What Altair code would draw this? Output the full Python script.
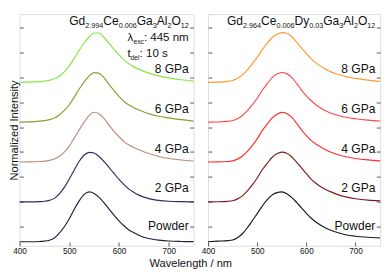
import altair as alt
import pandas as pd

# ---------------- data ----------------
wl = [400, 420, 440, 450, 460, 470, 480, 490, 500, 510, 520, 530, 540, 550, 560,
      570, 580, 590, 600, 610, 620, 630, 640, 650, 660, 670, 680, 700, 725, 750]

series = ["Powder", "2 GPa", "4 GPa", "6 GPa", "8 GPa"]
offsets = [0.2, 1.0, 1.8, 2.6, 3.4]

left_powder = [0, 0, 0.005, 0.012, 0.03, 0.075, 0.17, 0.3, 0.46, 0.65, 0.82, 0.95, 1.0, 0.97, 0.89,
               0.78, 0.655, 0.535, 0.42, 0.32, 0.235, 0.18, 0.13, 0.09, 0.065, 0.045, 0.032, 0.015, 0.005, 0.0]
left_2gpa = [0, 0, 0.005, 0.012, 0.03, 0.07, 0.16, 0.29, 0.46, 0.64, 0.815, 0.94, 0.995, 0.98, 0.91,
             0.81, 0.69, 0.57, 0.45, 0.345, 0.255, 0.19, 0.135, 0.095, 0.065, 0.045, 0.03, 0.013, 0.004, 0]
left_4gpa = [0, 0.002, 0.01, 0.018, 0.033, 0.06, 0.115, 0.2, 0.32, 0.48, 0.645, 0.8, 0.935, 1.0, 0.97,
             0.87, 0.74, 0.615, 0.51, 0.41, 0.34, 0.29, 0.245, 0.205, 0.17, 0.14, 0.11, 0.07, 0.04, 0.02]
left_6gpa = [0.002, 0.006, 0.02, 0.032, 0.05, 0.085, 0.145, 0.235, 0.35, 0.5, 0.665, 0.81, 0.93, 0.995, 0.98,
             0.89, 0.76, 0.635, 0.52, 0.415, 0.345, 0.29, 0.245, 0.205, 0.172, 0.142, 0.118, 0.085, 0.05, 0.022]
left_8gpa = [0, 0.004, 0.015, 0.025, 0.04, 0.07, 0.12, 0.21, 0.33, 0.48, 0.645, 0.79, 0.915, 0.99, 0.99,
             0.9, 0.78, 0.66, 0.55, 0.45, 0.37, 0.31, 0.265, 0.22, 0.185, 0.155, 0.13, 0.09, 0.052, 0.024]

right_powder = [0, 0.012, 0.022, 0.035, 0.08, 0.16, 0.28, 0.42, 0.565, 0.71, 0.84, 0.935, 0.985, 1.0, 0.965,
                0.89, 0.79, 0.68, 0.57, 0.47, 0.39, 0.325, 0.27, 0.23, 0.195, 0.165, 0.14, 0.11, 0.09, 0.075]
right_2gpa = [0, 0.002, 0.01, 0.022, 0.06, 0.12, 0.22, 0.34, 0.48, 0.64, 0.77, 0.89, 0.965, 1.0, 0.975,
              0.905, 0.8, 0.68, 0.565, 0.45, 0.37, 0.3, 0.245, 0.2, 0.16, 0.125, 0.1, 0.062, 0.035, 0.02]
right_4gpa = [0, 0.002, 0.01, 0.022, 0.058, 0.12, 0.215, 0.33, 0.465, 0.625, 0.76, 0.88, 0.96, 0.998, 0.975,
              0.9, 0.78, 0.645, 0.53, 0.43, 0.355, 0.295, 0.24, 0.195, 0.16, 0.13, 0.105, 0.07, 0.042, 0.024]
right_6gpa = [0, 0.003, 0.015, 0.033, 0.07, 0.135, 0.23, 0.35, 0.48, 0.635, 0.77, 0.89, 0.965, 0.998, 0.975,
              0.9, 0.78, 0.645, 0.53, 0.43, 0.345, 0.28, 0.225, 0.18, 0.148, 0.12, 0.098, 0.068, 0.042, 0.024]
right_8gpa = [0, 0.004, 0.018, 0.038, 0.08, 0.15, 0.25, 0.37, 0.5, 0.65, 0.78, 0.895, 0.965, 0.998, 0.985,
              0.92, 0.81, 0.69, 0.575, 0.47, 0.385, 0.315, 0.26, 0.21, 0.172, 0.142, 0.115, 0.078, 0.045, 0.02]

left_colors = ["#20203a", "#2c2c5c", "#bb8c7c", "#8e9c30", "#88e444"]
right_colors = ["#1a1a1a", "#7c1c1c", "#ff3030", "#ff4848", "#ff9a33"]

left_formula = [("Gd", 0), ("2.994", 1), ("Ce", 0), ("0.006", 1), ("Ga", 0), ("3", 1),
                ("Al", 0), ("2", 1), ("O", 0), ("12", 1)]
right_formula = [("Gd", 0), ("2.964", 1), ("Ce", 0), ("0.006", 1), ("Dy", 0), ("0.03", 1),
                 ("Ga", 0), ("3", 1), ("Al", 0), ("2", 1), ("O", 0), ("12", 1)]
lambda_line = [("λ", 0), ("exc", 1), (": 445 nm", 0)]
tdel_line = [("t", 0), ("del", 1), (": 10 s", 0)]

x_ticks = [400, 450, 500, 550, 600, 650, 700, 750]
y_ticks = [0.5, 1.0, 1.5, 2.0, 2.5, 3.0, 3.5, 4.0, 4.5]

# ---------------- layout helpers ----------------
FONT = "Liberation Sans"
H = 241
WL, WR = 181, 179
YDOM = [0.117, 4.77]
XDOM = [400, 750]

ADV = {'G': 778, 'd': 556, 'C': 722, 'e': 556, 'a': 556, 'A': 667, 'l': 222, 'O': 778,
       'D': 722, 'y': 500, '.': 278, ' ': 278, ':': 278, 'n': 556, 'm': 833, 's': 500,
       't': 278, 'x': 500, 'c': 500, 'λ': 520}


def tw(s, size):
    return sum(ADV.get(c, 556) for c in s) * size / 1000.0


def seg_rows(segs, start_px, width_px, main, sub, y):
    rows = []
    x = start_px
    for t, s in segs:
        rows.append({"t": t, "wl": XDOM[0] + x / width_px * (XDOM[1] - XDOM[0]), "y": y, "sub": s})
        x += tw(t, sub if s else main)
    return rows


def seg_total(segs, main, sub):
    return sum(tw(t, sub if s else main) for t, s in segs)


XS = alt.Scale(domain=XDOM, nice=False)
YS = alt.Scale(domain=YDOM, nice=False, zero=False)


def text_layers(rows, main, sub):
    df = pd.DataFrame(rows)
    enc = dict(x=alt.X("wl:Q", scale=XS),
               y=alt.Y("y:Q", scale=YS, axis=None),
               text="t:N")
    m = alt.Chart(df[df["sub"] == 0]).mark_text(align="left", baseline="alphabetic", fontSize=main,
                                                font=FONT, color="#111").encode(**enc)
    s = alt.Chart(df[df["sub"] == 1]).mark_text(align="left", baseline="alphabetic", fontSize=sub,
                                                font=FONT, color="#111", dy=3).encode(**enc)
    return [m, s]


def panel(curves, colors, width_px, left):
    rows = []
    for name, off, vals in zip(series, offsets, curves):
        for w, v in zip(wl, vals):
            rows.append({"wl": w, "val": v + off, "series": name})
    df = pd.DataFrame(rows)

    xaxis = alt.Axis(values=x_ticks,
                     labelExpr="datum.value % 100 == 0 && datum.value < 750 ? datum.label : ''",
                     offset=-4, tickSize=4, domain=False, grid=False, labelFontSize=8.5, labelPadding=1,
                     labelFlush=False, labelOverlap=False, labelColor="#111", tickColor="#555",
                     labelFont=FONT, title=None)
    yaxis = alt.Axis(values=y_ticks, labels=False, offset=-4, tickSize=4, domain=False, grid=False,
                     tickColor="#555", orient="left",
                     title="Normalized Intensity" if left else None,
                     titleFontSize=11.5, titleFontWeight="normal", titleFont=FONT, titleColor="#111",
                     titlePadding=0)
    yaxis_r = alt.Axis(values=y_ticks, labels=False, offset=-4, tickSize=4, domain=False, grid=False,
                       tickColor="#555", orient="right", title=None)

    lines = alt.Chart(df).mark_line(interpolate="monotone", strokeWidth=1.2).encode(
        x=alt.X("wl:Q", scale=XS, axis=xaxis),
        y=alt.Y("val:Q", scale=YS, axis=yaxis),
        color=alt.Color("series:N", scale=alt.Scale(domain=series, range=colors), legend=None),
        detail="series:N",
    )
    ghost = alt.Chart(df).mark_point(opacity=0).encode(
        x=alt.X("wl:Q", scale=XS),
        y=alt.Y("val:Q", scale=YS, axis=yaxis_r),
    )

    right_px = width_px - 5
    lab_x = XDOM[0] + right_px / width_px * (XDOM[1] - XDOM[0])
    lab_df = pd.DataFrame({"t": series, "wl": [lab_x] * 5,
                           "y": [o + (0.24 if s == "Powder" else 0.19) for s, o in zip(series, offsets)]})
    labels = alt.Chart(lab_df).mark_text(align="right", baseline="alphabetic", fontSize=12.5,
                                         font=FONT, color="#111").encode(
        x=alt.X("wl:Q", scale=XS),
        y=alt.Y("y:Q", scale=YS, axis=None),
        text="t:N",
    )

    layers = [lines, ghost, labels]
    formula = left_formula if left else right_formula
    fw = seg_total(formula, 12.5, 7.5)
    layers += text_layers(seg_rows(formula, right_px - fw, width_px, 12.5, 7.5, 4.545), 12.5, 7.5)
    if left:
        lw = seg_total(lambda_line, 12, 7)
        start = right_px - lw
        layers += text_layers(seg_rows(lambda_line, start, width_px, 12, 7, 4.225), 12, 7)
        layers += text_layers(seg_rows(tdel_line, start, width_px, 12, 7, 3.905), 12, 7)

    return alt.layer(*layers).resolve_axis(y="independent").properties(width=width_px, height=H)


left = panel([left_powder, left_2gpa, left_4gpa, left_6gpa, left_8gpa], left_colors, WL, True)
right = panel([right_powder, right_2gpa, right_4gpa, right_6gpa, right_8gpa], right_colors, WR, False)

chart = alt.hconcat(left, right, spacing=3).resolve_scale(color="independent").properties(
    padding={"left": 0, "top": 0, "right": 0, "bottom": 0},
    title=alt.TitleParams("Wavelength / nm", orient="bottom", anchor="middle", fontSize=11.5,
                          fontWeight="normal", font=FONT, color="#111", offset=3, dx=-5),
).configure_view(stroke="#4a4a4a", strokeWidth=1).configure(font=FONT)

chart.save("out.html", embed_options={"renderer": "svg", "actions": False})
